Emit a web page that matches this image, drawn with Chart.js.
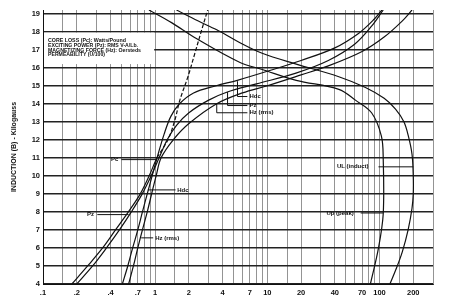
<!DOCTYPE html>
<html><head><meta charset="utf-8">
<script src="https://cdn.jsdelivr.net/npm/chart.js@4/dist/chart.umd.min.js"></script>
<style>html,body{margin:0;padding:0;background:#fff}#wrap{width:466px;height:300px}</style>
</head><body><div id="wrap"><canvas id="c" width="466" height="300"></canvas></div>
<script>
// ---- axis data ----
const xGridValues = [0.1,0.15,0.2,0.3,0.4,0.5,0.6,0.7,0.8,0.9,1,1.5,2,3,4,5,6,7,8,9,10,15,20,30,40,50,60,70,80,90,100,150,200,300];
const xTickValues = [0.1,0.2,0.4,0.7,1,2,4,7,10,20,40,70,100,200];
const xTickLabels = ['.1','.2','.4','.7','1','2','4','7','10','20','40','70','100','200'];
const yTickValues = [4,5,6,7,8,9,10,11,12,13,14,15,16,17,18,19];

// ---- curve data (x value, induction in kilogauss) ----
const pcX = [0.181,0.25,0.34,0.443,0.577,0.737,0.885,1.04,1.30,1.50,1.66,1.96,2.26,2.60,2.94];
const pcB = [4,5,6,7,8,9,10,11,12,13.1,14.2,15.5,16.8,18.1,19.2];

const pzX = [0.200,0.277,0.368,0.480,0.613,0.767,0.922,1.085,1.28,1.55,2.0,3.0,4.4,8,18,35,60,85,108];
const pzB = [4,5,6,7,8,9,10,11,12.0,12.8,13.5,14.2,14.65,15.1,15.7,16.4,17.3,18.3,19.2];

const hdcX = [0.51,0.57,0.63,0.70,0.77,0.85,0.94,1.04,1.2,1.38,1.65,2.2,3.5,5.4,10,20,40,65,90,105];
const hdcB = [4,5,6,7,8,9,10,11,12.3,13.3,14.0,14.6,15.0,15.3,15.8,16.4,17.1,17.9,18.7,19.2];

const hzX = [0.58,0.64,0.70,0.77,0.85,0.93,1.02,1.13,1.45,2.0,3.54,6,10,20,35,70,110,160,195];
const hzB = [4,5,6,7,8,9,10,11,12.0,12.9,14.0,14.6,15.0,15.6,16.1,16.9,17.7,18.6,19.2];

const ulX = [1.55,2.4,3.54,5.65,9.0,18.1,43.4,75,110,139,165,181,195,200,200,195,180,160,140,124];
const ulB = [19.2,18.6,18.1,17.4,16.8,16.2,15.5,14.9,14.3,13.7,13.0,12.2,11.2,10.0,9.0,8.2,7.0,5.8,4.8,4];

const upX = [0.88,1.4,2.35,5.65,9.0,18.1,43.4,61,85,104,108,108,98,83];
const upB = [19.2,18.5,17.6,16.3,15.9,15.3,14.8,14.2,13.5,12.2,10.9,7.9,6.0,4];

// ---- annotation text ----
const legendLines = ['CORE LOSS (Pc): Watts/Pound','EXCITING POWER (Pz): RMS V-A/Lb.','MAGNETIZING FORCE (Hz): Oersteds','PERMEABILITY (U/100)'];
const yTitle = 'INDUCTION (B) - Kilogauss';
const labelTexts = ['Pc','Pz','Hdc','Hz (rms)','Hdc','Pz','Hz (rms)','UL (induct)','Up (peak)'];
const labelAnchorX = [0.47,0.285,1.57,1.0,6.93,6.93,6.93,80,59];
const labelAnchorB = [10.9,7.85,9.22,6.56,14.4,13.9,13.5,10.5,7.94];
const labelAlign = ['right','right','left','left','left','left','left','right','right'];
const leaderX = [[0.50,1.04],[0.305,0.58],[0.86,1.52],[0.75,0.96],[5.42,5.42,6.64],[4.42,4.42,6.64],[3.54,3.54,6.64],[98,200],[68,108]];
const leaderB = [[10.9,10.9],[7.85,7.85],[9.22,9.22],[6.56,6.56],[15.25,14.4,14.4],[14.65,13.9,13.9],[14.0,13.5,13.5],[10.5,10.5],[7.94,7.94]];

const pts = (xs, bs) => xs.map((v, i) => ({x: v, y: bs[i]}));
const INK = '#111';
const FONT = '"Liberation Sans", Arial, sans-serif';

const ds = (data, extra) => Object.assign({
  data, borderColor: INK, borderWidth: 1.2, pointRadius: 0, showLine: true,
  tension: 0.35, fill: false
}, extra || {});

const annot = {
  id: 'annot',
  beforeDatasetsDraw(chart) {
    const {ctx, scales: {x, y}} = chart;
    const l = x.getPixelForValue(0.1) + 1, r = x.getPixelForValue(1) - 1;
    const t = y.getPixelForValue(18) + 1, b = y.getPixelForValue(16.2);
    ctx.save();
    ctx.fillStyle = '#fff';
    ctx.fillRect(l, t, r - l, b - t);
    ctx.fillStyle = INK;
    ctx.font = 'bold 6px ' + FONT;
    ctx.textBaseline = 'middle';
    const widths = [78, 90, 93, 57];
    legendLines.forEach((s, i) => ctx.fillText(s, l + 4, t + 7.5 + i * 4.9, widths[i]));
    ctx.restore();
  },
  afterDatasetsDraw(chart) {
    const {ctx, scales: {x, y}, chartArea} = chart;
    ctx.save();
    ctx.strokeStyle = INK;
    ctx.lineWidth = 1;
    leaderX.forEach((xs, i) => {
      ctx.beginPath();
      xs.forEach((v, j) => {
        const px = x.getPixelForValue(v), py = y.getPixelForValue(leaderB[i][j]);
        if (j === 0) ctx.moveTo(px, py); else ctx.lineTo(px, py);
      });
      ctx.stroke();
    });
    ctx.fillStyle = INK;
    ctx.font = 'bold 6px ' + FONT;
    ctx.textBaseline = 'middle';
    labelTexts.forEach((s, i) => {
      ctx.textAlign = labelAlign[i];
      ctx.fillText(s, x.getPixelForValue(labelAnchorX[i]), y.getPixelForValue(labelAnchorB[i]));
    });
    // y axis title
    ctx.translate(14, (chartArea.top + chartArea.bottom) / 2);
    ctx.rotate(-Math.PI / 2);
    ctx.textAlign = 'center';
    ctx.font = 'bold 7px ' + FONT;
    ctx.fillText(yTitle, 0, 0, 98);
    ctx.restore();
  }
};

new Chart(document.getElementById('c'), {
  type: 'scatter',
  data: {
    datasets: [
      ds(pts(pcX, pcB), {segment: {borderDash: c => (c.p0.parsed.y >= 11 ? [4, 2] : undefined)}}),
      ds(pts(pzX, pzB)),
      ds(pts(hdcX, hdcB)),
      ds(pts(hzX, hzB)),
      ds(pts(ulX, ulB)),
      ds(pts(upX, upB))
    ]
  },
  options: {
    responsive: false,
    animation: false,
    devicePixelRatio: 1,
    layout: {padding: {left: 0, right: 33, top: 10, bottom: 0}},
    plugins: {legend: {display: false}, tooltip: {enabled: false}},
    scales: {
      x: {
        type: 'logarithmic', min: 0.1, max: 300,
        afterBuildTicks: s => { s.ticks = xGridValues.map(v => ({value: v})); },
        afterFit: s => { s.height = 16; },
        ticks: {
          autoSkip: false, maxRotation: 0, minRotation: 0, padding: 4, color: INK,
          font: {family: FONT, size: 7.5, weight: 'bold'},
          callback: v => { const i = xTickValues.findIndex(t => Math.abs(t - v) < 1e-9); return i >= 0 ? xTickLabels[i] : ''; }
        },
        grid: {color: '#666', lineWidth: 0.7, drawTicks: false},
        border: {display: true, color: INK, width: 1}
      },
      y: {
        type: 'linear', min: 4, max: 19.2,
        afterBuildTicks: s => { s.ticks = yTickValues.map(v => ({value: v})); },
        afterFit: s => { s.width = 43; },
        ticks: {padding: 3, color: INK, font: {family: FONT, size: 7.5, weight: 'bold'}},
        grid: {color: '#222', lineWidth: 1.5, drawTicks: false},
        border: {display: true, color: INK, width: 1}
      }
    }
  },
  plugins: [annot]
});
</script>
</body></html>
